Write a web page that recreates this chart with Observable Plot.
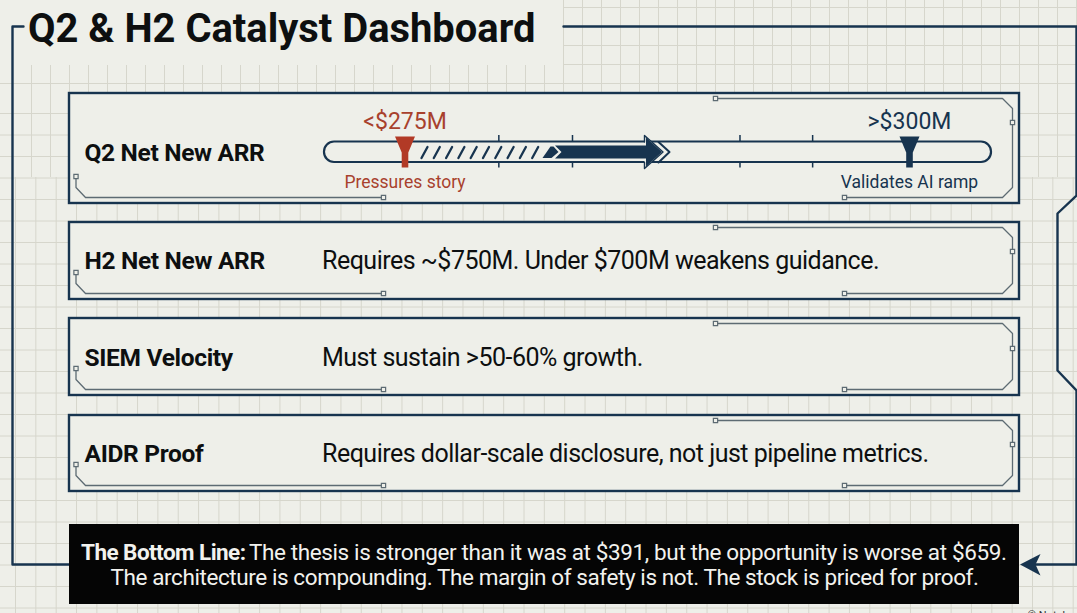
<!DOCTYPE html>
<html><head><meta charset="utf-8">
<script src="https://cdn.jsdelivr.net/npm/d3@7"></script>
<script src="https://cdn.jsdelivr.net/npm/@observablehq/plot@0.6"></script>
<style>html,body{margin:0;padding:0;background:#edeee8;overflow:hidden}svg{display:block}</style>
</head><body><div id="chart"></div>
<script>
// ---- content ----
const chartTitle = "Q2 & H2 Catalyst Dashboard";
const rowLabels = ["Q2 Net New ARR", "H2 Net New ARR", "SIEM Velocity", "AIDR Proof"];
const rowNotes = ["", "Requires ~$750M. Under $700M weakens guidance.", "Must sustain >50-60% growth.", "Requires dollar-scale disclosure, not just pipeline metrics."];
const thresholdValues = [275, 300];
const thresholdLabels = ["<$275M", ">$300M"];
const thresholdNotes = ["Pressures story", "Validates AI ramp"];
const trackTicks = [279.65, 283.3, 291.6, 295.2];
const bottomLead = "The Bottom Line:";
const bottomRest = "The thesis is stronger than it was at $391, but the opportunity is worse at $659.";
const bottomLine2 = "The architecture is compounding. The margin of safety is not. The stock is priced for proof.";
const credit = "© Notebook";

// ---- layout (in the plot's own 1077 x 613 units) ----
const W = 1077, H = 613;
const NAVY = "#17344f", RED = "#b23a26", REDTXT = "#a8412d", INK = "#0d0f10", BG = "#eeefe9", GRID = "#d6d6cc", TRACE = "#5d6b73";
const rowTop = [93, 222, 318, 415], rowBottom = [203, 299, 395, 491], rowBase = [160.5, 268.5, 365.5, 461.5];
const rowMid = [122, 251, 348, 444];
const px = v => 404.5 + (v - 275) * 20.18;     // ARR $M to layout x
const trackY0 = 141.5, trackY1 = 162;
const seq = (a, b, s) => d3.range(Math.ceil((b - a) / s) + 1).map(i => a + i * s);

// background grid patches
const gridTopX = seq(31, W, 19), gridLowX = seq(15, W, 20.34);
const gridTopY = [7, 26, 45, 64, 83], gridLowY = seq(113, H, 21.5);

const poly = (id, pts) => pts.map(([x, y]) => ({id, x, y}));
const frame = [
  ...poly("a", [[23,26],[12,26],[12,564],[69,564]]),
  ...poly("b", [[563,26],[1076,26],[1076,195],[1057,213],[1057,370],[1076,390],[1076,564],[1034,564]])
];
const traces = rowTop.flatMap((t, i) => {
  const b = rowBottom[i];
  return [
    ...poly("l"+i, [[75.5,b-27],[75.5,b-16],[85,b-6],[383,b-6]]),
    ...poly("r"+i, [[715,t+5],[1002,t+5],[1012,t+15],[1012,b-16],[1002,b-6],[844,b-6]])
  ];
});
const nodes = rowTop.flatMap((t, i) => {
  const b = rowBottom[i];
  return [{x:75.5,y:b-27},{x:383,y:b-6},{x:715,y:t+5},{x:1012,y:rowMid[i]},{x:844,y:b-6}];
});
const hatch = d3.range(10).flatMap(i => poly("h"+i, [[421+i*12.3,157.5],[427+i*12.3,146.5]]));
const funnel = (id, c) => poly(id, [[c-10,136],[c+10,136],[c+3.3,152],[c+3.3,167],[c-3.3,167],[c-3.3,152]]);
const tipBlock = poly("t", [[542,157.5],[550,146],[553,146],[558,151.5],[551,157.5]]);
const arrowOuter = poly("o", [[644,141.5],[644,135],[662.5,151.5],[644,168],[644,162]]);
const arrowFill = poly("f", [[554.5,145],[561,151.5],[554.5,158],[645.5,158],[645.5,166],[661.5,151.5],[645.5,137],[645.5,145]]);
const chevron = poly("c", [[658,141.5],[669,151.5],[658,162]]);
const chevronClear = poly("cc", [[650,143],[663,143],[668,151.5],[663,160.5],[650,160.5]]);
const endArrow = poly("e", [[1019.5,564],[1040,553.5],[1035,564],[1040,575]]);
const textMark = (str, x, y, o) => Plot.text([str], {x: () => x, y: () => y, text: d => d, lineAnchor: "bottom", ...o});

const chart = Plot.plot({
  width: W, height: H, margin: 0,
  x: {domain: [0, W], range: [0, W], axis: null},
  y: {domain: [0, H], range: [0, H], axis: null},
  style: {background: BG, fontFamily: "Roboto, sans-serif", overflow: "hidden"},
  marks: [
    // grid
    Plot.ruleX(gridTopX, {x: d => d, y1: 0, y2: 177, stroke: GRID, strokeWidth: 1}),
    Plot.ruleX(gridLowX, {x: d => d, y1: 177, y2: H, stroke: GRID, strokeWidth: 1}),
    Plot.ruleY(gridTopY, {y: d => d, x1: 31, x2: W, stroke: GRID, strokeWidth: 1}),
    Plot.ruleY(gridLowY, {y: d => d, x1: 0, x2: W, stroke: GRID, strokeWidth: 1}),
    Plot.ruleY([83], {y: d => d, x1: 0, x2: 31, stroke: GRID}),
    // clean title area
    Plot.rect([0], {x1: 0, x2: 563, y1: 0, y2: 65, fill: BG}),
    // outer frame
    Plot.line(frame, {x: "x", y: "y", z: "id", stroke: NAVY, strokeWidth: 2.4, curve: "linear"}),
    Plot.line(endArrow, {x: "x", y: "y", z: "id", fill: NAVY, stroke: "none"}),
    // rows
    Plot.rect(rowTop, {x1: 69, x2: 1019, y1: d => d, y2: (d, i) => rowBottom[i], fill: BG, stroke: NAVY, strokeWidth: 2.4}),
    Plot.line(traces, {x: "x", y: "y", z: "id", stroke: TRACE, strokeWidth: 1.3}),
    Plot.dot(nodes, {x: "x", y: "y", symbol: "square", r: 2.4, fill: BG, stroke: TRACE, strokeWidth: 1.2}),
    // track
    Plot.ruleX(trackTicks, {x: px, y1: 135, y2: 167.5, stroke: NAVY, strokeWidth: 1.5}),
    Plot.rect([0], {x1: 324, x2: 991, y1: trackY0, y2: trackY1, rx: 10, fill: BG, stroke: NAVY, strokeWidth: 2.2}),
    Plot.ruleX(trackTicks, {x: px, y1: 143, y2: 160.5, stroke: BG, strokeWidth: 2}),
    Plot.line(hatch, {x: "x", y: "y", z: "id", stroke: NAVY, strokeWidth: 2.3}),
    Plot.line(tipBlock, {x: "x", y: "y", fill: NAVY, stroke: "none"}),
    Plot.line(chevronClear, {x: "x", y: "y", fill: BG, stroke: "none"}),
    Plot.line(chevron, {x: "x", y: "y", stroke: NAVY, strokeWidth: 2}),
    Plot.line(arrowOuter, {x: "x", y: "y", fill: BG, stroke: NAVY, strokeWidth: 1.4}),
    Plot.line(arrowFill, {x: "x", y: "y", fill: NAVY, stroke: "none"}),
    // threshold markers
    Plot.line(funnel("m0", px(thresholdValues[0])), {x: "x", y: "y", fill: RED, stroke: "none"}),
    Plot.line(funnel("m1", px(thresholdValues[1])), {x: "x", y: "y", fill: NAVY, stroke: "none"}),
    Plot.text(thresholdLabels, {x: (d, i) => px(thresholdValues[i]), y: 128, text: d => d, lineAnchor: "bottom", fontSize: 23, fill: (d, i) => i ? NAVY : REDTXT}),
    Plot.text(thresholdNotes, {x: (d, i) => px(thresholdValues[i]), y: 187, text: d => d, lineAnchor: "bottom", fontSize: 17.5, fill: (d, i) => i ? NAVY : REDTXT}),
    // row text
    Plot.text(rowLabels, {x: 84, y: (d, i) => rowBase[i], text: d => d, textAnchor: "start", lineAnchor: "bottom", fontSize: 24.5, fontWeight: 700, fill: INK}),
    Plot.text(rowNotes, {x: 321.5, y: (d, i) => rowBase[i], text: d => d, textAnchor: "start", lineAnchor: "bottom", fontSize: 25, fill: INK}),
    // title
    textMark(chartTitle, 27.5, 41, {textAnchor: "start", fontSize: 39.9, fontWeight: 700, fill: INK}),
    // bottom line
    Plot.rect([0], {x1: 69, x2: 1019, y1: 524, y2: 604, fill: "#050505"}),
    textMark(bottomLead, 80.5, 559, {textAnchor: "start", fontSize: 22.5, fontWeight: 700, fill: "#f2f2ee"}),
    textMark(bottomRest, 1006, 559, {textAnchor: "end", fontSize: 22.5, fill: "#f2f2ee"}),
    textMark(bottomLine2, 544, 584, {fontSize: 22.5, fill: "#f2f2ee"}),
    textMark(credit, 1027, 618, {textAnchor: "start", fontSize: 11, fill: "#333"})
  ]
});
// The reference's type is set a little tighter than Roboto's default advance.
const tracking = new Map([
  ...rowLabels.map(t => [t, "-.32px"]),
  ...rowNotes.map(t => [t, "-.5px"]),
  [bottomLead, "-.55px"], [bottomRest, "-.38px"], [bottomLine2, "-.41px"]
]);
d3.select(chart).selectAll("text").each(function() {
  const s = tracking.get(this.textContent);
  if (s) this.style.letterSpacing = s;
});
document.getElementById("chart").append(chart);
</script></body></html>
